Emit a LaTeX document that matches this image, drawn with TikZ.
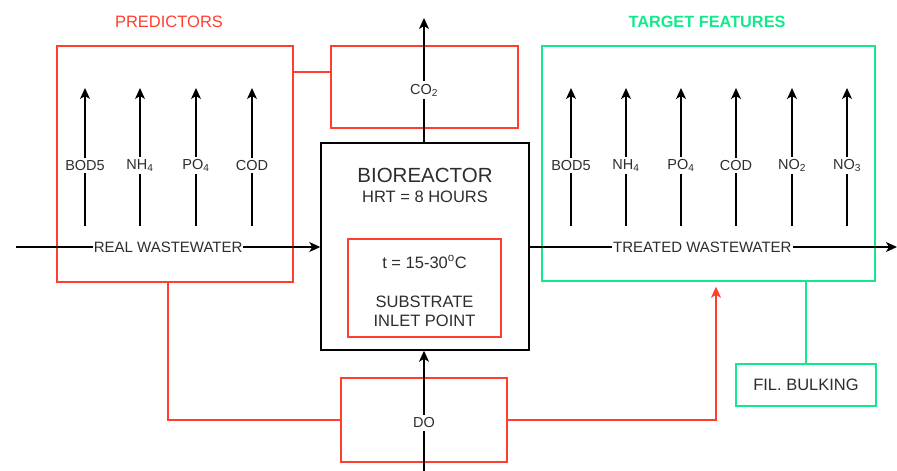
\documentclass[tikz,border=0pt]{standalone}
\usepackage{fontspec}
\setmainfont{Liberation Sans}
\usetikzlibrary{arrows.meta,calc}
\definecolor{predred}{RGB}{255,62,48}
\definecolor{tgtgreen}{RGB}{20,232,140}
\definecolor{txt}{RGB}{45,45,45}
\tikzset{
  redbox/.style={draw=predred, line width=1.5pt, inner sep=0pt},
  greenbox/.style={draw=tgtgreen, line width=1.5pt, inner sep=0pt},
  blackbox/.style={draw=black, line width=1.5pt, inner sep=0pt},
  flow/.style={line width=1.3pt, -{Stealth[length=11pt,width=10pt,inset=3pt]}},
  redflow/.style={draw=predred, line width=1.6pt},
  lab/.style={fill=white, text=txt, font=\fontsize{14.5}{16}\selectfont, inner sep=2.5pt},
  wlab/.style={fill=white, text=txt, font=\fontsize{15}{17}\selectfont, inner sep=1pt},
  body/.style={text=txt, font=\fontsize{16.5}{19}\selectfont},
}
\begin{document}
\begin{tikzpicture}[x=1pt,y=-1pt]
\useasboundingbox (0,0) rectangle (897,471);
% titles
\node[text=predred, font=\fontsize{16.5}{18}\selectfont] (ptitle) at (169,22) {PREDICTORS};
\node[text=tgtgreen, font=\bfseries\fontsize{16.3}{18}\selectfont] (ttitle) at (707,22) {TARGET FEATURES};
% boxes
\node[redbox, minimum width=236pt, minimum height=236pt] (pred) at (175,164) {};
\node[redbox, minimum width=187pt, minimum height=82pt] (co2box) at (424.5,87) {};
\node[blackbox, minimum width=208pt, minimum height=207pt] (bio) at (425,246.5) {};
\node[redbox, minimum width=153pt, minimum height=98pt] (inner) at (424.5,288) {};
\node[greenbox, minimum width=333pt, minimum height=235pt] (target) at (708.5,163.5) {};
\node[redbox, minimum width=166pt, minimum height=84pt] (dobox) at (424,420) {};
\node[greenbox, minimum width=140pt, minimum height=42pt, body] (fil) at (806,385) {FIL. BULKING};
% bioreactor texts
\node[text=txt, font=\fontsize{20.5}{23}\selectfont] (biot) at (425,175) {BIOREACTOR};
\node[body] (hrt) at (425,197) {HRT = 8 HOURS};
\node[body] (temp) at (424.5,262) {t = 15-30\textsuperscript{o}C};
\node[body, align=center] (subs) at (424.5,311) {SUBSTRATE\\INLET POINT};
% predictor arrows
\foreach \x/\t/\n in {85/BOD5/pa, 140/NH\textsubscript{4}/pb, 196/PO\textsubscript{4}/pc, 252/COD/pd}{
  \coordinate (\n s) at (\x,226);
  \coordinate (\n e) at (\x,88);
  \draw[flow] (\n s) -- (\n e) node[lab, pos=0.44] (\n l) {\t};
}
% target arrows
\foreach \x/\t/\n in {571/BOD5/ta, 626/NH\textsubscript{4}/tb, 681/PO\textsubscript{4}/tc, 736/COD/td, 792/NO\textsubscript{2}/te, 847/NO\textsubscript{3}/tf}{
  \coordinate (\n s) at (\x,226);
  \coordinate (\n e) at (\x,88);
  \draw[flow] (\n s) -- (\n e) node[lab, pos=0.44] (\n l) {\t};
}
% wastewater lines
\coordinate (rwin) at (16,247);
\draw[flow] (rwin) -- (rwin -| bio.west) node[wlab, pos=0.5] (rwl) {REAL WASTEWATER};
\coordinate (twout) at (897,247);
\draw[flow] (twout -| bio.east) -- (twout) node[wlab, pos=0.47] (twl) {TREATED WASTEWATER};
% CO2 arrow
\coordinate (co2top) at (424,18);
\draw[flow] (bio.north -| co2top) -- (co2top) node[lab, pos=0.42] (co2l) {CO\textsubscript{2}};
% DO arrow
\coordinate (dobot) at (424,471);
\draw[flow] (dobot) -- (bio.south -| dobot) node[lab, pos=0.40] (dol) {DO};
% red connectors
\draw[redflow] ([yshift=-27pt]pred.north east) -- ([yshift=-27pt]pred.north east -| co2box.west);
\draw[redflow] ([xshift=-7pt]pred.south) |- (dobox.west);
\draw[redflow, -{Stealth[length=11pt,width=10pt,inset=3pt]}] (dobox.east) -| ([xshift=7.5pt,yshift=-5pt]target.south);
% green connector
\draw[draw=tgtgreen, line width=1.6pt] (fil.north) -- (fil.north |- target.south);
\end{tikzpicture}
\end{document}
